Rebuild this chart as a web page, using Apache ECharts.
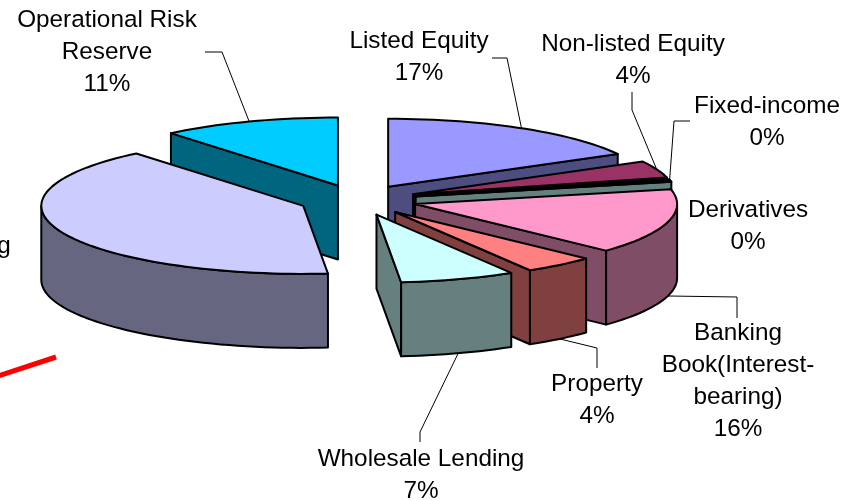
<!DOCTYPE html>
<html><head><meta charset="utf-8">
<style>html,body{margin:0;padding:0;background:#fff;overflow:hidden}#c{width:859px;height:501px}</style>
<script src="https://cdn.jsdelivr.net/npm/echarts@6/dist/echarts.min.js"></script>
</head><body><div id="c"></div>
<script>
// Data, clockwise from 12 o'clock
const categories = ['Listed Equity','Non-listed Equity','Fixed-income','Derivatives','Banking Book(Interest-bearing)','Property','Wholesale Lending','Retail Lending','Operational Risk Reserve'];
const shares = [17, 4, 0.2, 0.3, 15.5, 4.4, 7.1, 40.5, 11];
const labelLines = [['Listed Equity'],['Non-listed Equity'],['Fixed-income'],['Derivatives'],['Banking','Book(Interest-','bearing)'],['Property'],['Wholesale Lending'],['Retail Lending'],['Operational Risk','Reserve']];
const colors = ['#9999FF','#993366','#FFFFCC','#CCFFFF','#FF99CC','#FF8080','#CCFFFF','#CCCCFF','#00CCFF'];
const wallColors = ['#4D4D80','#4D1A33','#808066','#668080','#804D66','#804040','#668080','#666680','#006680'];
const drawOrder = [8,0,1,2,3,4,5,6,7];

// Projection and layout settings
const CX=358, CY=200, RX=262, RY=68, DEPTH=74, EXPLODE=0.226;
const FONT='24.3px "Liberation Sans", Arial, sans-serif', LH=32;
const labelPos = [[419,41],[633,44],[767,106],[748,210],[738,333],[597,384],[421,459],[-67,246],[107,20]];
const leaderBends = [
  [[507,58],[492,58]], [[632,110],[632,92]], [[674,121],[690,121]], null,
  [[737,297],[737,318]], [[597,348],[597,368]], [[420,432],[420,442]], null, [[222,52],[205,52]]
];
const onSide = [false,false,false,false,true,true,true,false,false];

const total = shares.reduce((a,b)=>a+b,0);
let acc=0;
const spans = shares.map(v=>{const s=acc/total*360; acc+=v; return [s,acc/total*360];});
const rad=d=>d*Math.PI/180;
const dirOf=t=>[RX*Math.sin(rad(t)),-RY*Math.cos(rad(t))];

function arc(ax,ay,s,e){const n=Math.max(2,Math.ceil((e-s)/2));const p=[];
  for(let i=0;i<=n;i++){const d=dirOf(s+(e-s)*i/n);p.push([ax+d[0],ay+d[1]]);}return p;}
const edge={stroke:'#000',lineWidth:2,lineJoin:'round'};

function renderItem(params){
  const i=drawOrder[params.dataIndex];
  const [s,e]=spans[i], b=(s+e)/2, bd=dirOf(b);
  const ax=CX+EXPLODE*bd[0], ay=CY+EXPLODE*bd[1];
  const ch=[];
  const wall=pts=>ch.push({type:'polygon',shape:{points:pts},style:Object.assign({fill:wallColors[i]},edge)});
  const rim=(t)=>{const d=dirOf(t);return [ax+d[0],ay+d[1]];};
  if(s>180){const r=rim(s);wall([[ax,ay],r,[r[0],r[1]+DEPTH],[ax,ay+DEPTH]]);}
  if(e<180){const r=rim(e);wall([[ax,ay],r,[r[0],r[1]+DEPTH],[ax,ay+DEPTH]]);}
  const fs=Math.max(s,90), fe=Math.min(e,270);
  if(fe>fs){const top=arc(ax,ay,fs,fe);const bot=top.map(p=>[p[0],p[1]+DEPTH]).reverse();wall(top.concat(bot));}
  ch.push({type:'polygon',shape:{points:[[ax,ay]].concat(arc(ax,ay,s,e))},style:Object.assign({fill:colors[i]},edge)});
  return {type:'group',children:ch};
}

function renderLabel(params){
  const i=params.dataIndex;
  const [s,e]=spans[i], b=(s+e)/2, bd=dirOf(b);
  const ax=CX+EXPLODE*bd[0], ay=CY+EXPLODE*bd[1];
  const ch=[];
  if(leaderBends[i]){
    const a=[ax+bd[0],ay+bd[1]+(onSide[i]?DEPTH:0)];
    ch.push({type:'polyline',shape:{points:[a].concat(leaderBends[i])},style:{stroke:'#000',lineWidth:1,fill:null}});
  }
  const lines=labelLines[i].concat([Math.round(shares[i])+'%']);
  lines.forEach((t,k)=>ch.push({type:'text',style:{text:t,x:labelPos[i][0],y:labelPos[i][1]+k*LH,align:'center',verticalAlign:'middle',font:FONT,fill:'#000'}}));
  return {type:'group',children:ch};
}

const chart=echarts.init(document.getElementById('c'),null,{renderer:'canvas'});
chart.setOption({
  animation:false,
  backgroundColor:'#fff',
  graphic:[{type:'line',z:1,silent:true,shape:{x1:-2,y1:376,x2:56,y2:357},style:{stroke:'#FF0000',lineWidth:5}}],
  series:[
    {type:'custom',coordinateSystem:'none',silent:true,z:2,renderItem:renderItem,data:drawOrder.map(i=>[shares[i]])},
    {type:'custom',coordinateSystem:'none',silent:true,z:3,renderItem:renderLabel,data:categories.map((c,i)=>({name:c,value:[shares[i]]}))}
  ]
});
</script></body></html>
